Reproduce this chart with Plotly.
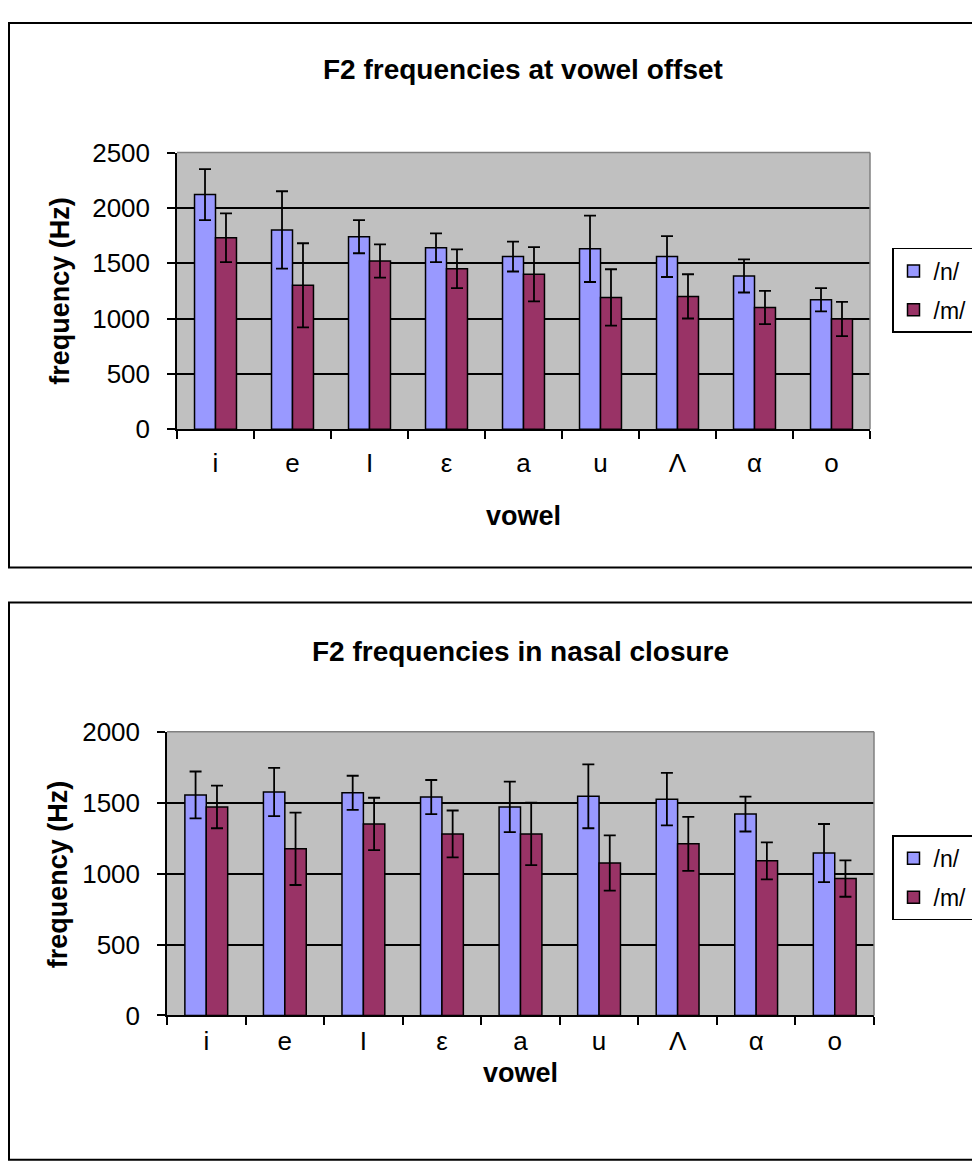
import plotly.graph_objects as go

# page body has an 8px default margin; compensate so page pixels match reference
OFF = 8
W, H = 980 - OFF, 1161 - OFF

vowels = ["i", "e", "I", "ε", "a", "u", "Λ", "α", "o"]

# F2 at vowel offset
off_n = [2120, 1800, 1740, 1640, 1560, 1630, 1560, 1385, 1170]
off_n_err = [230, 350, 150, 130, 135, 300, 185, 150, 105]
off_m = [1730, 1300, 1520, 1450, 1400, 1190, 1200, 1100, 995]
off_m_err = [220, 380, 150, 175, 245, 255, 200, 150, 155]

# F2 in nasal closure
clo_n = [1555, 1575, 1570, 1540, 1470, 1545, 1525, 1420, 1145]
clo_n_err = [165, 170, 120, 120, 178, 225, 185, 123, 205]
clo_m = [1470, 1175, 1350, 1280, 1280, 1075, 1210, 1090, 965]
clo_m_err = [150, 255, 185, 165, 220, 195, 190, 130, 128]

series_names = ["/n/", "/m/"]
COL_N = "#9999FF"
COL_M = "#993366"
FONT = "Liberation Sans"


def py(y):
    return 1 - (y - OFF) / H


def px_(x):
    return (x - OFF) / W


fig = go.Figure()


def add_pair(vals_n, err_n, vals_m, err_m, xa, ya, leg):
    for name, vals, err, col in [(series_names[0], vals_n, err_n, COL_N),
                                 (series_names[1], vals_m, err_m, COL_M)]:
        fig.add_trace(go.Bar(
            x=vowels, y=vals, name=name, xaxis=xa, yaxis=ya, legend=leg,
            legendgroup=leg + name,
            marker=dict(color=col, line=dict(color="black", width=1.5)),
            error_y=dict(type="data", array=err, visible=True,
                         color="black", thickness=1.8, width=6),
        ))


add_pair(off_n, off_n_err, off_m, off_m_err, "x", "y", "legend")
add_pair(clo_n, clo_n_err, clo_m, clo_m_err, "x2", "y2", "legend2")

tickfont = dict(family=FONT, size=26, color="black")

xcommon = dict(type="category", tickson="boundaries", ticks="outside", ticklen=8,
               tickwidth=1.5, tickcolor="black", showline=True, linecolor="black",
               linewidth=1.5, showgrid=False, tickfont=tickfont)
ycommon = dict(ticks="outside", ticklen=8, tickwidth=1.5, tickcolor="black",
               showline=True, linecolor="black", linewidth=1.5, showgrid=True,
               gridcolor="black", gridwidth=1.5, zeroline=False, tickfont=tickfont,
               dtick=500, ticklabelstandoff=12)

legcommon = dict(xanchor="left", yanchor="top", bordercolor="black", borderwidth=1.5,
                 bgcolor="white", font=dict(family=FONT, size=23, color="black"),
                 itemwidth=30, tracegroupgap=6)

fig.update_layout(
    width=W, height=H,
    margin=dict(l=0, r=0, t=0, b=0),
    paper_bgcolor="white",
    plot_bgcolor="#C0C0C0",
    barmode="group",
    bargap=0.455,
    bargroupgap=0,
    font=dict(family=FONT, color="black"),
    xaxis=dict(domain=[px_(177), px_(870)], anchor="y", ticklabelstandoff=10, **xcommon),
    yaxis=dict(domain=[py(425), py(141)], anchor="x", range=[0, 2500], **ycommon),
    xaxis2=dict(domain=[px_(167), px_(874)], anchor="y2", ticklabelstandoff=2, **xcommon),
    yaxis2=dict(domain=[py(1027), py(735.7)], anchor="x2", range=[0, 2000], **ycommon),
    legend=dict(x=px_(892), y=py(239), **legcommon),
    legend2=dict(x=px_(892), y=py(842), **legcommon),
)

shapes = []
# chart frames
shapes.append(dict(type="rect", xref="paper", yref="paper", x0=px_(9), x1=px_(1000),
                   y0=py(567), y1=py(8), line=dict(color="black", width=2)))
shapes.append(dict(type="rect", xref="paper", yref="paper", x0=px_(9), x1=px_(1000),
                   y0=py(1175), y1=py(603), line=dict(color="black", width=2)))
# plot area gray border (top/right)
for xa, ya in [("x", "y"), ("x2", "y2")]:
    shapes.append(dict(type="line", xref=f"{xa} domain", yref=f"{ya} domain",
                       x0=0, x1=1, y0=1, y1=1, line=dict(color="#808080", width=1.5)))
    shapes.append(dict(type="line", xref=f"{xa} domain", yref=f"{ya} domain",
                       x0=1, x1=1, y0=0, y1=1, line=dict(color="#808080", width=1.5)))
fig.update_layout(shapes=shapes)

ann = []
bold = dict(family=FONT, size=28, color="black")
ann.append(dict(text="<b>F2 frequencies at vowel offset</b>", xref="paper", yref="paper",
                x=px_(523), y=py(56), showarrow=False, font=bold, xanchor="center", yanchor="middle"))
ann.append(dict(text="<b>F2 frequencies in nasal closure</b>", xref="paper", yref="paper",
                x=px_(520), y=py(653), showarrow=False, font=bold, xanchor="center", yanchor="middle"))
axt = dict(family=FONT, size=27, color="black")
ann.append(dict(text="<b>frequency (Hz)</b>", xref="paper", yref="paper", textangle=-90,
                x=px_(60), y=py(283), showarrow=False, font=axt, xanchor="center", yanchor="middle"))
ann.append(dict(text="<b>frequency (Hz)</b>", xref="paper", yref="paper", textangle=-90,
                x=px_(58), y=py(882), showarrow=False, font=axt, xanchor="center", yanchor="middle"))
ann.append(dict(text="<b>vowel</b>", xref="paper", yref="paper",
                x=px_(523), y=py(514), showarrow=False, font=axt, xanchor="center", yanchor="middle"))
ann.append(dict(text="<b>vowel</b>", xref="paper", yref="paper",
                x=px_(520), y=py(1086), showarrow=False, font=axt, xanchor="center", yanchor="middle"))
fig.update_layout(annotations=ann)

fig.write_html("out.html")
